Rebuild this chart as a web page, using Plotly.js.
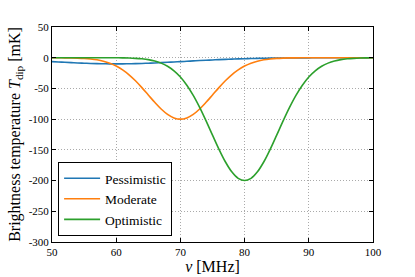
<!DOCTYPE html>
<html>
<head>
<meta charset="utf-8">
<script src="https://cdn.plot.ly/plotly-3.0.1.min.js"></script>
<style>html,body{margin:0;padding:0;background:#fff;}#chart{width:415px;height:277px;}</style>
</head>
<body>
<div id="chart"></div>
<script>
const freq = [50,51,52,53,54,55,56,57,58,59,60,61,62,63,64,65,66,67,68,69,70,71,72,73,74,75,76,77,78,79,80,81,82,83,84,85,86,87,88,89,90,91,92,93,94,95,96,97,98,99,100];
const pessimistic = [-6.4,-6.9,-7.5,-8.0,-8.5,-8.9,-9.3,-9.6,-9.8,-10.0,-10.0,-10.0,-9.8,-9.6,-9.3,-8.9,-8.5,-8.0,-7.5,-6.9,-6.4,-5.8,-5.2,-4.6,-4.1,-3.6,-3.1,-2.7,-2.3,-1.9,-1.6,-1.4,-1.1,-0.9,-0.7,-0.6,-0.5,-0.4,-0.3,-0.2,-0.2,-0.1,-0.1,-0.1,0,0,0,0,0,0,0];
const moderate = [0,-0.1,-0.2,-0.3,-0.6,-1.1,-2.0,-3.4,-5.6,-8.9,-13.5,-19.8,-27.8,-37.5,-48.7,-60.7,-72.6,-83.5,-92.3,-98.0,-100,-98.0,-92.3,-83.5,-72.6,-60.7,-48.7,-37.5,-27.8,-19.8,-13.5,-8.9,-5.6,-3.4,-2.0,-1.1,-0.6,-0.3,-0.2,-0.1,0,0,0,0,0,0,0,0,0,0,0];
const optimistic = [0,0,0,0,0,0,0,0,0,0,-0.1,-0.25,-0.5,-1.0,-1.8,-3.1,-5.3,-8.8,-14.0,-21.4,-31.4,-44.8,-61.2,-80.8,-102.8,-126,-148.8,-169.4,-185.8,-196.4,-200,-196.4,-185.8,-169.4,-148.8,-126,-102.8,-80.8,-61.2,-44.8,-31.4,-21.4,-14.0,-8.8,-5.3,-3.1,-1.8,-1.0,-0.5,-0.25,-0.1];
const seriesNames = ["Pessimistic","Moderate","Optimistic"];
const colors = ["#1f77b4","#ff7f0e","#2ca02c"];
const xTicks = [50,60,70,80,90,100];
const xTickText = ["50","60","70","80","90","100"];
const yTicks = [50,0,-50,-100,-150,-200,-250,-300];
const yTickText = ["50","0","-50","-100","-150","-200","-250","-300"];

const data = [pessimistic, moderate, optimistic].map((ys, i) => ({
  x: freq, y: ys, type: 'scatter', mode: 'lines', name: seriesNames[i],
  line: {color: colors[i], width: 1.6, shape: 'spline', smoothing: 1}
}));

const font = {family: '"Liberation Serif", "DejaVu Serif", serif', color: '#000'};
const axisCommon = {
  showline: true, linecolor: '#000', linewidth: 1, mirror: 'ticks',
  ticks: 'inside', ticklen: 4, tickwidth: 1, tickcolor: '#000',
  showgrid: true, gridcolor: '#aaa', griddash: '1px,2px', gridwidth: 1,
  zeroline: false, tickfont: Object.assign({size: 11}, font)
};
const layout = {
  width: 415, height: 277,
  margin: {l: 52, r: 42, t: 27, b: 35},
  paper_bgcolor: '#fff', plot_bgcolor: '#fff',
  font: font,
  showlegend: true,
  legend: {
    x: 0.019, y: 0.028, xanchor: 'left', yanchor: 'bottom',
    bordercolor: '#000', borderwidth: 1, bgcolor: '#fff',
    font: Object.assign({size: 13.5}, font), tracegroupgap: 0, itemwidth: 36
  },
  xaxis: Object.assign({}, axisCommon, {
    range: [50, 100], tickvals: xTicks, ticktext: xTickText,
    title: {text: '<i>ν</i> [MHz]', font: Object.assign({size: 16}, font), standoff: 0}
  }),
  yaxis: Object.assign({}, axisCommon, {
    range: [-300, 50], tickvals: yTicks, ticktext: yTickText,
    title: {text: 'Brightness temperature <i>T</i><sub>dip</sub> [mK]', font: Object.assign({size: 16}, font), standoff: 4}
  })
};
Plotly.newPlot('chart', data, layout, {displayModeBar: false, staticPlot: true});
</script>
</body>
</html>
